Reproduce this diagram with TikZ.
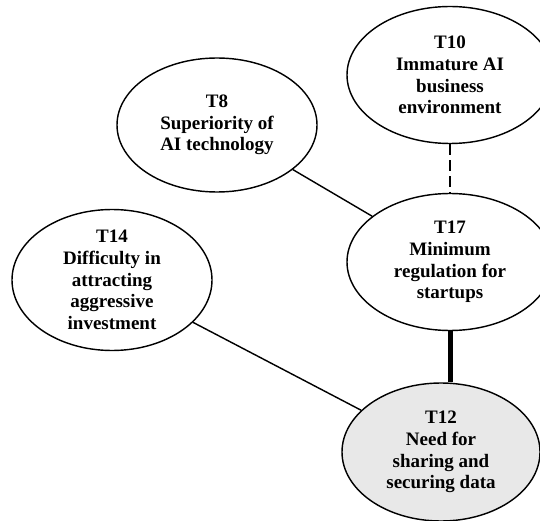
\documentclass[tikz,border=0pt]{standalone}
\usepackage{fontspec}
\setmainfont{Liberation Serif}
\usetikzlibrary{shapes.geometric}

\begin{document}
\begin{tikzpicture}[x=1pt, y=-1pt,
		theme/.style={draw, ellipse, line width=0.5mm, inner sep=0pt, align=center,
			font=\bfseries\fontsize{19}{21.7}\selectfont},
		link/.style={line width=0.5mm}]
			%%%%% START %%%%%
			
			\useasboundingbox (0, 0) rectangle (540, 521);
			
			\node[theme, minimum width=206, minimum height=137] (t10) at (450, 75) {T10\\Immature AI\\business\\environment};
			\node[theme, minimum width=200, minimum height=134] (t8) at (217, 125) {T8\\Superiority of\\AI technology};
			\node[theme, minimum width=200, minimum height=141] (t14) at (112, 280) {T14\\Difficulty in\\attracting\\aggressive\\investment};
			\node[theme, minimum width=206, minimum height=137] (t17) at (450, 262) {T17\\Minimum\\regulation for\\startups};
			\node[theme, fill=black!9, minimum width=198, minimum height=138] (t12) at (441, 452) {T12\\Need for\\sharing and\\securing data};
			
			\draw[link, line width=2.7pt, dash pattern=on 11pt off 5pt] (t10.south) -- (t17.north);
			\draw[link] (t8) -- (t17);
			\draw[link] (t14) -- (t12);
			\draw[link, line width=5pt] (t17.south) -- (t17.south |- t12.north);
			
			%%%%% END %%%%%
		\end{tikzpicture}
\end{document}
